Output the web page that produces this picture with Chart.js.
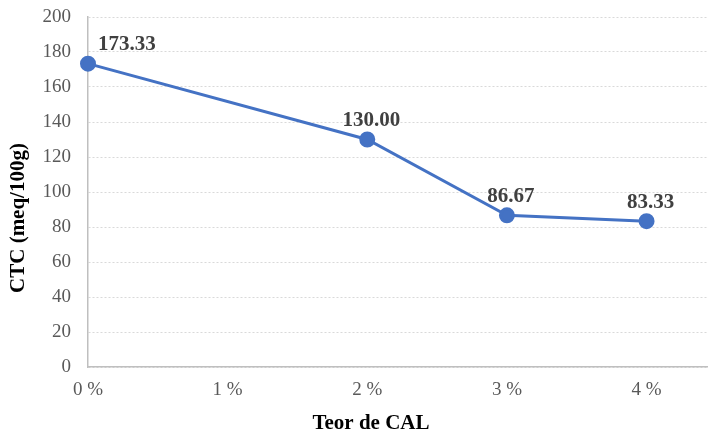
<!DOCTYPE html>
<html>
<head>
<meta charset="utf-8">
<script src="https://cdn.jsdelivr.net/npm/chart.js@4"></script>
<style>
  html, body { margin: 0; padding: 0; background: #ffffff; }
  #wrap { width: 708px; height: 437px; position: relative; }
</style>
</head>
<body>
<div id="wrap"><canvas id="c" width="708" height="437"></canvas></div>
<script>
// Lime content (%) and cation exchange capacity (meq/100g)
const limeContent = [0, 2, 3, 4];
const ctcValues = [173.33, 130.00, 86.67, 83.33];
const xTickValues = [0, 1, 2, 3, 4];
const yTickValues = [0, 20, 40, 60, 80, 100, 120, 140, 160, 180, 200];
const xTitle = 'Teor de CAL';
const yTitle = 'CTC (meq/100g)';

const SERIF = '"Liberation Serif", "Times New Roman", serif';
const LINE_COLOR = '#4472C4';

// Drop the extra room Chart.js reserves for overhanging tick labels
function noOverhang(scale) {
  scale.paddingLeft = 0;
  scale.paddingRight = 0;
  scale.paddingTop = 0;
  scale.paddingBottom = 0;
}

// Value labels above each point, axis titles drawn centred on the canvas
const annotations = {
  id: 'annotations',
  afterDatasetsDraw(chart) {
    const ctx = chart.ctx;
    const meta = chart.getDatasetMeta(0);
    ctx.save();
    ctx.font = 'bold 21px ' + SERIF;
    ctx.fillStyle = '#404040';
    ctx.textBaseline = 'middle';
    meta.data.forEach((pt, i) => {
      const txt = ctcValues[i].toFixed(2);
      if (i === 0) {
        ctx.textAlign = 'left';
        ctx.fillText(txt, pt.x + 10, pt.y - 19);
      } else {
        ctx.textAlign = 'center';
        ctx.fillText(txt, pt.x + 4, pt.y - 19);
      }
    });
    ctx.restore();
  },
  afterDraw(chart) {
    const ctx = chart.ctx;
    ctx.save();
    ctx.font = 'bold 21px ' + SERIF;
    ctx.fillStyle = '#000000';
    ctx.textAlign = 'center';
    ctx.textBaseline = 'middle';
    ctx.fillText(xTitle, 371, 424);
    ctx.translate(19, 218);
    ctx.rotate(-Math.PI / 2);
    ctx.fillText(yTitle, 0, 0);
    ctx.restore();
  }
};

new Chart(document.getElementById('c'), {
  type: 'line',
  data: {
    datasets: [{
      data: limeContent.map((x, i) => ({ x: x, y: ctcValues[i] })),
      borderColor: LINE_COLOR,
      backgroundColor: LINE_COLOR,
      borderWidth: 3,
      pointRadius: 6.5,
      pointHoverRadius: 6.5,
      pointBackgroundColor: LINE_COLOR,
      pointBorderColor: LINE_COLOR,
      tension: 0,
      clip: false
    }]
  },
  options: {
    responsive: false,
    animation: false,
    events: [],
    layout: { autoPadding: false, padding: { top: 17, left: 0, right: 0, bottom: 0 } },
    plugins: { legend: { display: false }, tooltip: { enabled: false } },
    scales: {
      x: {
        type: 'linear',
        min: 0,
        max: 4.44,
        afterBuildTicks(scale) {
          scale.ticks = xTickValues.map(v => ({ value: v }));
        },
        afterFit(scale) { scale.height = 70; noOverhang(scale); },
        grid: { display: false, drawTicks: false },
        border: { display: true, color: '#bfbfbf', width: 1.5 },
        ticks: {
          padding: 12,
          maxRotation: 0,
          color: '#595959',
          font: { family: SERIF, size: 19 },
          callback: v => v + ' %'
        }
      },
      y: {
        type: 'linear',
        min: 0,
        max: 200,
        afterBuildTicks(scale) {
          scale.ticks = yTickValues.map(v => ({ value: v }));
        },
        afterFit(scale) { scale.width = 88; noOverhang(scale); },
        grid: { color: '#d9d9d9', lineWidth: 1, drawTicks: false },
        border: { display: true, color: '#bfbfbf', width: 1.5, dash: [2, 2] },
        ticks: {
          padding: 17,
          color: '#595959',
          font: { family: SERIF, size: 19 }
        }
      }
    }
  },
  plugins: [annotations]
});
</script>
</body>
</html>
